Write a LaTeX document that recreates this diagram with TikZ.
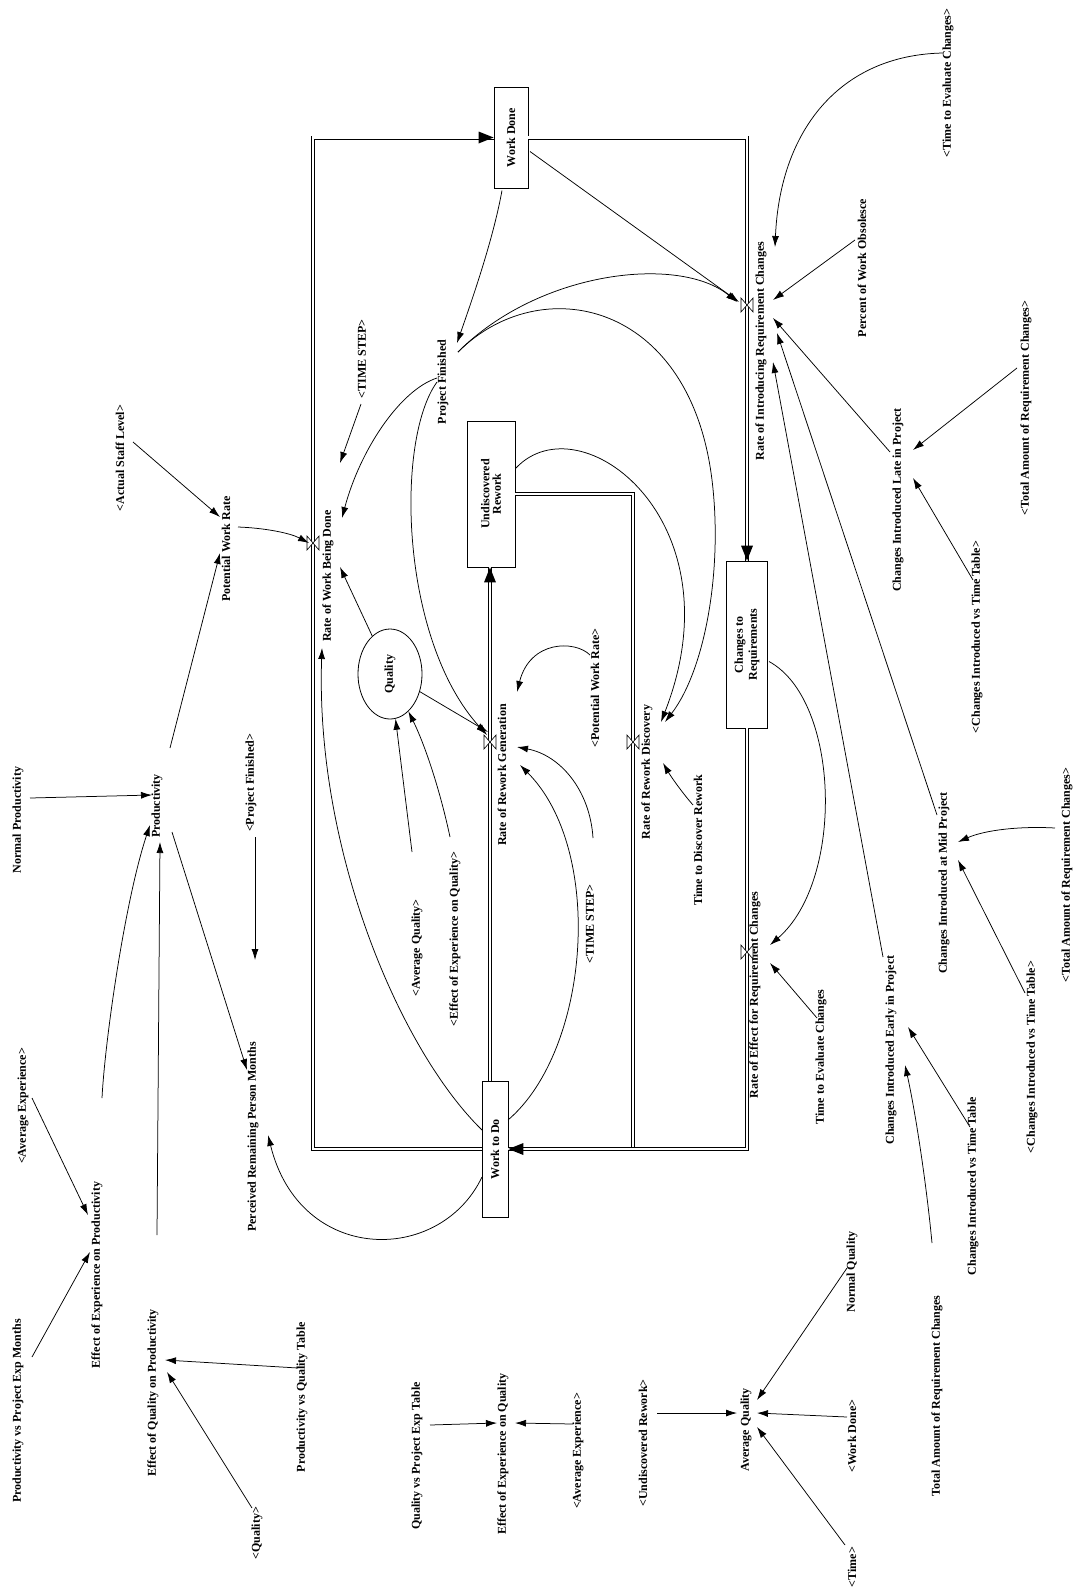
\documentclass[tikz,border=0pt]{standalone}
\usepackage{fontspec}
\usepackage{graphicx}
\setmainfont{Liberation Serif}
\usetikzlibrary{arrows.meta,calc,shapes.geometric}
\newcommand\lblfont{\fontsize{12}{13}\selectfont\bfseries}
\newcommand\rt[1]{\rotatebox{90}{#1}}
\newcommand\myvalve[1]{\draw[line width=0.6pt, fill=white] ($(#1)+(-6,-7)$) -- ($(#1)+(6,7)$) -- ($(#1)+(6,-7)$) -- ($(#1)+(-6,7)$) -- cycle;}
\newcommand\tipR[1]{\fill (#1) -- ++(-15,-6) -- ++(0,12) -- cycle;}
\newcommand\tipL[1]{\fill (#1) -- ++(15,-6) -- ++(0,12) -- cycle;}
\newcommand\tipD[1]{\fill (#1) -- ++(-6,-15) -- ++(12,0) -- cycle;}
\newcommand\tipU[1]{\fill (#1) -- ++(-6,15) -- ++(12,0) -- cycle;}
\begin{document}
\begin{tikzpicture}[x=1pt,y=-1pt,
  lbl/.style={inner sep=1pt, font=\lblfont},
  stock/.style={draw, line width=0.8pt, inner sep=0pt, font=\lblfont, fill=white},
  arr/.style={-{Latex[length=11pt,width=7pt]}, line width=0.75pt},
  pipe/.style={double, double distance=2.6pt, line width=0.7pt}]
\fill[white] (0,0) rectangle (1075,1596);
\useasboundingbox (0,0) rectangle (1075,1596);

% stocks
\node[stock, minimum width=34pt, minimum height=101pt] (wd) at (511,137.5) {\rt{Work Done}};
\node[stock, minimum width=48pt, minimum height=146pt] (ur) at (491,494) {\rt{\shortstack{Undiscovered\\Rework}}};
\node[stock, minimum width=41pt, minimum height=167pt] (ctr) at (747,644.5) {\rt{\shortstack{Changes to\\Requirements}}};
\node[stock, minimum width=26pt, minimum height=136pt] (wtd) at (495,1149) {\rt{Work to Do}};
\node[draw, ellipse, line width=0.8pt, inner sep=0pt, minimum width=64pt, minimum height=90pt, font=\lblfont] (ql) at (390,674) {\rt{Quality}};

% labels
\node[lbl] (tec1) at (948,83) {\rt{<Time to Evaluate Changes>}};
\node[lbl] (pwo) at (862,268) {\rt{Percent of Work Obsolesce}};
\node[lbl] (rirc) at (761,351) {\rt{Rate of Introducing Requirement Changes}};
\node[lbl] (tarc1) at (1026,408) {\rt{<Total Amount of Requirement Changes>}};
\node[lbl] (cil) at (898,500) {\rt{Changes Introduced Late in Project}};
\node[lbl] (civt1) at (977,637) {\rt{<Changes Introduced vs Time Table>}};
\node[lbl] (civt2) at (1032,1057) {\rt{<Changes Introduced vs Time Table>}};
\node[lbl] (tarc2) at (1067,875) {\rt{<Total Amount of Requirement Changes>}};
\node[lbl] (cim) at (944,883) {\rt{Changes Introduced at Mid Project}};
\node[lbl] (cie) at (891,1050) {\rt{Changes Introduced Early in Project}};
\node[lbl] (civt) at (973,1186) {\rt{Changes Introduced vs Time Table}};
\node[lbl] (tarc) at (937,1396) {\rt{Total Amount of Requirement Changes}};
\node[lbl] (nq) at (852,1272) {\rt{Normal Quality}};
\node[lbl] (wdr) at (852,1436) {\rt{<Work Done>}};
\node[lbl] (tim) at (852,1567) {\rt{<Time>}};
\node[lbl] (aq) at (746,1430) {\rt{Average Quality}};
\node[lbl] (urr) at (643,1443) {\rt{<Undiscovered Rework>}};
\node[lbl] (ae2) at (578,1451) {\rt{<Average Experience>}};
\node[lbl] (eeq) at (503,1454) {\rt{Effect of Experience on Quality}};
\node[lbl] (qvpe) at (417,1456) {\rt{Quality vs Project Exp Table}};
\node[lbl] (qr) at (257,1533) {\rt{<Quality>}};
\node[lbl] (pvq) at (302,1397) {\rt{Productivity vs Quality Table}};
\node[lbl] (eqp) at (153,1393) {\rt{Effect of Quality on Productivity}};
\node[lbl] (eep) at (97,1275) {\rt{Effect of Experience on Productivity}};
\node[lbl] (pvpe) at (18,1411) {\rt{Productivity vs Project Exp Months}};
\node[lbl] (ae1) at (23,1106) {\rt{<Average Experience>}};
\node[lbl] (np) at (18,820) {\rt{Normal Productivity}};
\node[lbl] (prod) at (157,806) {\rt{Productivity}};
\node[lbl] (pfr) at (251,783) {\rt{<Project Finished>}};
\node[lbl] (prpm) at (253,1137) {\rt{Perceived Remaining Person Months}};
\node[lbl] (pwr) at (226,549) {\rt{Potential Work Rate}};
\node[lbl] (asl) at (120,458) {\rt{<Actual Staff Level>}};
\node[lbl] (rwbd) at (328,576) {\rt{Rate of Work Being Done}};
\node[lbl] (ts1) at (362,359) {\rt{<TIME STEP>}};
\node[lbl] (pf) at (443,382) {\rt{Project Finished}};
\node[lbl] (pwrr) at (595,688) {\rt{<Potential Work Rate>}};
\node[lbl] (rrg) at (502,775) {\rt{Rate of Rework Generation}};
\node[lbl] (rrd) at (647,772) {\rt{Rate of Rework Discovery}};
\node[lbl] (tdr) at (698,840) {\rt{Time to Discover Rework}};
\node[lbl] (ts2) at (590,924) {\rt{<TIME STEP>}};
\node[lbl] (aqr) at (417,948) {\rt{<Average Quality>}};
\node[lbl] (eeqr) at (455,939) {\rt{<Effect of Experience on Quality>}};
\node[lbl] (rerc) at (755,995) {\rt{Rate of Effect for Requirement Changes}};
\node[lbl] (tec) at (821,1057) {\rt{Time to Evaluate Changes}};

% pipe corners and valves
\coordinate (cBL) at (313,1149);
\coordinate (cTL) at (313,137.5);
\coordinate (cTR) at (747,137.5);
\coordinate (cBR) at (747,1149);
\coordinate (cUR) at (633,494);
\coordinate (cJ) at (633,1149);
\coordinate (v1) at (313,543);
\coordinate (v2) at (747,305);
\coordinate (v3) at (747,952);
\coordinate (v4) at (490,742);
\coordinate (v5) at (633,742);
\coordinate (wtdt) at (wtd.north -| v4);
\coordinate (urb) at (ur.south -| v4);

% pipes
\draw[pipe] (wtd.west) -- (cBL) -- (cTL) -- (wd.west);
\draw[pipe] (wd.east) -- (cTR) -- (ctr.north);
\draw[pipe] (ur.east) -- (cUR) -- (cJ);
\draw[pipe] (ctr.south) -- (cBR) -- (wtd.east);
\draw[pipe] (wtdt) -- (urb);
\tipR{wd.west}
\tipD{ctr.north}
\tipL{wtd.east}
\tipU{urb}
\myvalve{v1}
\myvalve{v2}
\myvalve{v3}
\myvalve{v4}
\myvalve{v5}

% connectors, top region
\draw[arr] ($(wd)+(-9,53)$) .. controls (493,240) and (472,300) .. ($(pf)+(14,-39)$);
\draw[arr] ($(wd)+(19,14)$) -- ($(v2)+(-8,-3)$);
\draw[arr] ($(pf)+(15,-30)$) .. controls (540,270) and (680,255) .. ($(v2)+(-10,-3)$);
\draw[arr] ($(pf)+(15,-30)$) .. controls (540,270) and (690,300) .. (712,480) .. controls (723,570) and (705,670) .. ($(rrd)+(18,-50)$);
\draw[arr] ($(pf)+(-6,-4)$) .. controls (400,390) and (360,450) .. ($(rwbd)+(14,-58)$);
\draw[arr] ($(pf)+(-6,0)$) .. controls (395,440) and (400,640) .. ($(v4)+(-3,-7)$);
\draw[arr] ($(ts1)+(-1,45)$) -- ($(rwbd)+(12,-113)$);
\draw[arr] ($(pwr)+(12,-22)$) .. controls (265,528) and (290,533) .. ($(v1)+(-4,0)$);
\draw[arr] ($(asl)+(13,-16)$) -- ($(pwr)+(-6,-32)$);
\draw[arr] ($(prod)+(13,-58)$) -- ($(pwr)+(-6,4)$);
\draw[arr] (ql) -- ($(rwbd)+(12,-9)$);
\draw[arr] ($(wtd)+(-13,-19)$) .. controls (400,1050) and (315,850) .. ($(rwbd)+(-6,72)$);
\draw[arr] ($(wtd)+(13,-29)$) .. controls (590,1050) and (605,850) .. ($(rrg)+(18,-10)$);
\draw[arr] ($(ts2)+(3,-86)$) .. controls (590,790) and (560,755) .. ($(rrg)+(15,-28)$);
\draw[arr] ($(pwrr)+(-5,-33)$) .. controls (575,640) and (530,640) .. ($(rrg)+(15,-83)$);
\draw[arr] (ql) -- ($(v4)+(-2,-10)$);
\draw[arr] ($(aqr)+(-5,-96)$) -- (ql);
\draw[arr] ($(eeqr)+(-5,-102)$) .. controls (440,790) and (425,745) .. (ql);
\draw[arr] ($(ur)+(25,-26)$) .. controls (580,400) and (740,520) .. ($(rrd)+(14,-50)$);
\draw[arr] ($(tdr)+(-5,-35)$) .. controls (680,790) and (670,775) .. ($(rrd)+(16,-9)$);
\draw[arr] ($(ctr)+(22,17)$) .. controls (840,700) and (845,880) .. ($(rerc)+(15,-50)$);
\draw[arr] ($(tec)+(-4,-39)$) -- ($(rerc)+(15,-32)$);

% right side
\draw[arr] ($(tec1)+(-5,-30)$) .. controls (840,55) and (780,130) .. ($(rirc)+(14,-104)$);
\draw[arr] ($(pwo)+(-7,-28)$) -- ($(rirc)+(12,-51)$);
\draw[arr] ($(cil)+(-8,-48)$) -- ($(rirc)+(12,-33)$);
\draw[arr] ($(cim)+(-7,-68)$) -- ($(rirc)+(16,-18)$);
\draw[arr] ($(cie)+(-8,-93)$) -- ($(rirc)+(12,11)$);
\draw[arr] ($(tarc1)+(-9,-40)$) -- ($(cil)+(15,-50)$);
\draw[arr] ($(civt1)+(-4,-57)$) -- ($(cil)+(15,-22)$);
\draw[arr] ($(tarc2)+(-12,-47)$) .. controls (1020,826) and (985,830) .. ($(cim)+(14,-41)$);
\draw[arr] ($(civt2)+(-7,-64)$) -- ($(cim)+(14,-23)$);
\draw[arr] ($(tarc)+(-5,-153)$) .. controls (926,1180) and (915,1110) .. ($(cie)+(14,15)$);
\draw[arr] ($(civt)+(-3,-59)$) -- ($(cie)+(17,-23)$);

% bottom
\draw[arr] ($(nq)+(-5,-4)$) -- ($(aq)+(11,-30)$);
\draw[arr] ($(wdr)+(-5,-19)$) -- ($(aq)+(11,-17)$);
\draw[arr] ($(tim)+(-7,-22)$) -- ($(aq)+(11,-3)$);
\draw[arr] ($(urr)+(14,-30)$) -- ($(aq)+(-9,-17)$);
\draw[arr] ($(qvpe)+(13,-31)$) -- ($(eeq)+(-6,-31)$);
\draw[arr] ($(ae2)+(-5,-27)$) -- ($(eeq)+(12,-31)$);
\draw[arr] ($(qr)+(-5,-25)$) -- ($(eqp)+(14,-21)$);
\draw[arr] ($(pvq)+(-4,-29)$) -- ($(eqp)+(12,-33)$);
\draw[arr] ($(pvpe)+(14,-54)$) -- ($(eep)+(-7,-23)$);
\draw[arr] ($(ae1)+(9,-8)$) -- ($(eep)+(-9,-60)$);

% left
\draw[arr] ($(eqp)+(4,-158)$) -- ($(prod)+(3,36)$);
\draw[arr] ($(eep)+(5,-177)$) .. controls (105,1040) and (125,900) .. ($(prod)+(-7,19)$);
\draw[arr] ($(np)+(12,-22)$) -- ($(prod)+(-5,-11)$);
\draw[arr] ($(prod)+(15,26)$) -- ($(prpm)+(-6,-67)$);
\draw[arr] ($(pfr)+(4,54)$) -- ($(prpm)+(2,-177)$);
\draw[arr] ($(wtd)+(-13,28)$) .. controls (440,1265) and (300,1265) .. ($(prpm)+(15,-2)$);
\end{tikzpicture}
\end{document}
